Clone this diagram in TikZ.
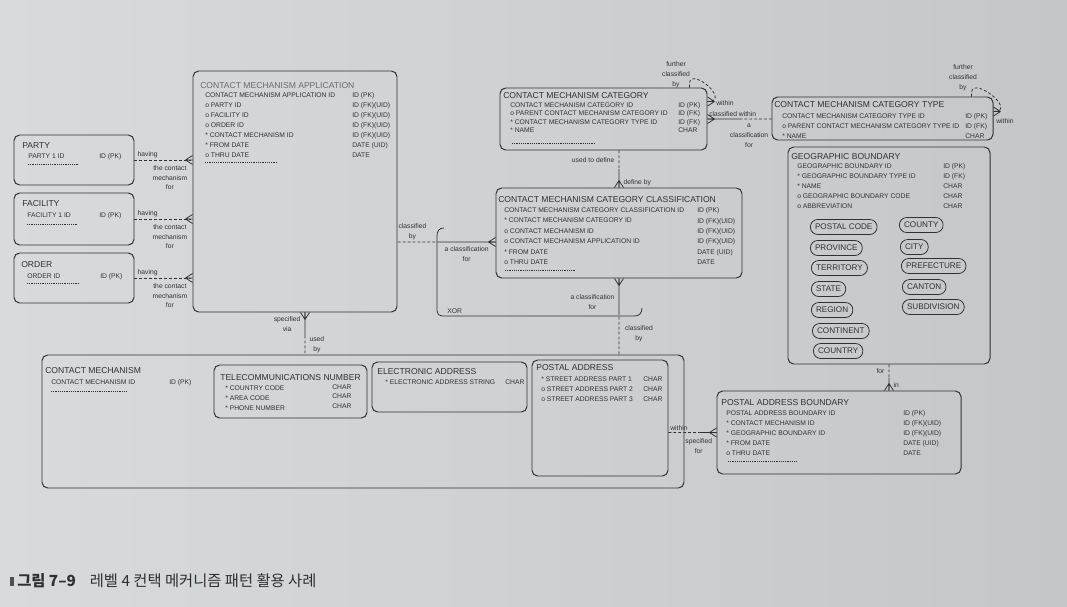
\documentclass[tikz,border=0pt]{standalone}
\usepackage{fontspec}
\setmainfont{Liberation Sans}
\newfontfamily\krfont{Noto Sans CJK KR}
\usetikzlibrary{fit,calc,positioning}

\definecolor{paperL}{RGB}{216,218,219}
\definecolor{paperR}{RGB}{196,199,201}
\definecolor{ink}{RGB}{48,48,50}
\definecolor{inklight}{RGB}{105,106,108}

\newcommand\entfont{\fontsize{6.1}{7.2}\selectfont}
\newcommand\attrfont{\fontsize{4.8}{7.1}\selectfont}
\newcommand\relfont{\fontsize{4.8}{7}\selectfont}
\newcommand\pillfont{\fontsize{5.8}{7}\selectfont}

\tikzset{
  entity/.style={draw=ink, line width=0.7pt, rounded corners=4pt, inner sep=0pt},
  enttitle/.style={anchor=west, inner sep=0pt, font=\entfont, text=ink},
  attrs/.style={anchor=north west, inner sep=0pt, align=left, font=\attrfont, text=ink},
  rel/.style={inner sep=0pt, font=\relfont, text=ink, align=center},
  link/.style={draw=ink, line width=0.55pt},
  optlink/.style={link, dash pattern=on 2pt off 1.5pt},
  moreattrs/.style={draw=ink, line width=0.3pt, densely dotted},
  subtype/.style={draw=ink, line width=0.55pt, rounded corners=5.2pt, minimum height=0.375cm,
    inner xsep=3.3pt, inner ysep=0pt, font=\pillfont, text=ink, anchor=west},
  crow/.pic={\draw[link, solid] (-7,0) -- (0,-4.5) (-7,0) -- (0,4.5) (-7,0) -- (0,0);}
}

\begin{document}
\begin{tikzpicture}[x=0.025cm, y=-0.025cm]
    \useasboundingbox (0,0) rectangle (1067,606);
    \shade[left color=paperL, right color=paperR] (0,0) rectangle (1067,606);

    % Party, facility, order
    \node[entity, fit={(14,135) (134,185)}] (party) {};
    \node[enttitle] (partyT) at (22,146) {PARTY};
    \node[attrs] (partyA) at (28,153.5) {PARTY 1 ID};
    \node[attrs] (partyV) at (99,153.5) {ID (PK)};
    \draw[moreattrs] (28,164) -- (79,164);

    \node[entity, fit={(14,193) (134,245)}] (facility) {};
    \node[enttitle] (facilityT) at (22,204) {FACILITY};
    \node[attrs] (facilityA) at (27,212.5) {FACILITY 1 ID};
    \node[attrs] (facilityV) at (99,212.5) {ID (PK)};
    \draw[moreattrs] (27,224) -- (78,224);

    \node[entity, fit={(14,253) (134,303)}] (order) {};
    \node[enttitle] (orderT) at (21,265) {ORDER};
    \node[attrs] (orderA) at (27,273.5) {ORDER ID};
    \node[attrs] (orderV) at (100,273.5) {ID (PK)};
    \draw[moreattrs] (27,283) -- (79,283);

    % Contact mechanism application
    \node[entity, fit={(193,71) (397,312)}] (cma) {};
    \node[enttitle, text=inklight] (cmaT) at (200,86) {CONTACT MECHANISM APPLICATION};
    \node[attrs] (cmaA) at (205,92.5) {CONTACT MECHANISM APPLICATION ID\\o PARTY ID\\o FACILITY ID\\o ORDER ID\\* CONTACT MECHANISM ID\\* FROM DATE\\o THRU DATE};
    \node[attrs] (cmaV) at (352,92.5) {ID (PK)\\ID (FK)(UID)\\ID (FK)(UID)\\ID (FK)(UID)\\ID (FK)(UID)\\DATE (UID)\\DATE};
    \draw[moreattrs] (205,162) -- (277,162);

    % Category and category type
    \node[entity, fit={(500,88) (707,150)}] (cmc) {};
    \node[enttitle] (cmcT) at (503,96) {CONTACT MECHANISM CATEGORY};
    \node[attrs, font=\fontsize{4.8}{5.9}\selectfont] (cmcA) at (510,102.5) {CONTACT MECHANISM CATEGORY ID\\o PARENT CONTACT MECHANISM CATEGORY ID\\* CONTACT MECHANISM CATEGORY TYPE ID\\* NAME};
    \node[attrs, font=\fontsize{4.8}{5.9}\selectfont] (cmcV) at (678,102.5) {ID (PK)\\ID (FK)\\ID (FK)\\CHAR};
    \draw[moreattrs] (512,143) -- (595,143);

    \node[entity, fit={(772,97) (993,140)}] (cmct) {};
    \node[enttitle] (cmctT) at (774,105) {CONTACT MECHANISM CATEGORY TYPE};
    \node[attrs] (cmctA) at (782,113.5) {CONTACT MECHANISM CATEGORY TYPE ID\\o PARENT CONTACT MECHANISM CATEGORY TYPE ID\\* NAME};
    \node[attrs] (cmctV) at (965,113.5) {ID (PK)\\ID (FK)\\CHAR};

    % Geographic boundary
    \node[entity, fit={(788,147) (990,364)}] (gb) {};
    \node[enttitle] (gbT) at (791,157) {GEOGRAPHIC BOUNDARY};
    \node[attrs] (gbA) at (797,163.5) {GEOGRAPHIC BOUNDARY ID\\* GEOGRAPHIC BOUNDARY TYPE ID\\* NAME\\o GEOGRAPHIC BOUNDARY CODE\\o ABBREVIATION};
    \node[attrs] (gbV) at (943,163.5) {ID (PK)\\ID (FK)\\CHAR\\CHAR\\CHAR};
    \node[subtype] (gbPostal) at (810,227) {POSTAL CODE};
    \node[subtype] (gbProvince) at (810,248) {PROVINCE};
    \node[subtype] (gbTerritory) at (811,268) {TERRITORY};
    \node[subtype] (gbState) at (811,289) {STATE};
    \node[subtype] (gbRegion) at (811,310) {REGION};
    \node[subtype] (gbContinent) at (812,331) {CONTINENT};
    \node[subtype] (gbCountry) at (813,351) {COUNTRY};
    \node[subtype] (gbCounty) at (899,225) {COUNTY};
    \node[subtype] (gbCity) at (900,247) {CITY};
    \node[subtype] (gbPrefecture) at (901,266) {PREFECTURE};
    \node[subtype] (gbCanton) at (902,287) {CANTON};
    \node[subtype] (gbSubdiv) at (902,307) {SUBDIVISION};

    % Category classification
    \node[entity, fit={(496,188) (742,278)}] (cmcc) {};
    \node[enttitle] (cmccT) at (498,200) {CONTACT MECHANISM CATEGORY CLASSIFICATION};
    \node[attrs, font=\fontsize{4.8}{7.4}\selectfont] (cmccA) at (504,207.5) {CONTACT MECHANISM CATEGORY CLASSIFICATION ID\\* CONTACT MECHANISM CATEGORY ID\\o CONTACT MECHANISM ID\\o CONTACT MECHANISM APPLICATION ID\\* FROM DATE\\o THRU DATE};
    \node[attrs, font=\fontsize{4.8}{7.4}\selectfont] (cmccV) at (697,207.5) {ID (PK)\\ID (FK)(UID)\\ID (FK)(UID)\\ID (FK)(UID)\\DATE (UID)\\DATE};
    \draw[moreattrs] (505,270) -- (575,270);

    % Contact mechanism with its subtypes
    \node[entity, fit={(42,355) (684,488)}] (cm) {};
    \node[enttitle] (cmT) at (45,371) {CONTACT MECHANISM};
    \node[attrs] (cmA) at (51,379) {CONTACT MECHANISM ID};
    \node[attrs] (cmV) at (169,379) {ID (PK)};
    \draw[moreattrs] (51,391) -- (127,391);

    \node[entity, fit={(214,365) (367,418)}] (tn) {};
    \node[enttitle] (tnT) at (220,378) {TELECOMMUNICATIONS NUMBER};
    \node[attrs] (tnA) at (225,385.5) {* COUNTRY CODE\\* AREA CODE\\* PHONE NUMBER};
    \node[attrs] (tnV) at (332,384) {CHAR\\CHAR\\CHAR};

    \node[entity, fit={(372,362) (527,412)}] (ea) {};
    \node[enttitle] (eaT) at (377,372) {ELECTRONIC ADDRESS};
    \node[attrs] (eaA) at (385,379.5) {* ELECTRONIC ADDRESS STRING};
    \node[attrs] (eaV) at (505,379.5) {CHAR};

    \node[entity, fit={(532,360) (668,476)}] (pa) {};
    \node[enttitle] (paT) at (536,368) {POSTAL ADDRESS};
    \node[attrs] (paA) at (541,376.5) {* STREET ADDRESS PART 1\\o STREET ADDRESS PART 2\\o STREET ADDRESS PART 3};
    \node[attrs] (paV) at (643,376.5) {CHAR\\CHAR\\CHAR};

    % Postal address boundary
    \node[entity, fit={(717,391) (961,474)}] (pab) {};
    \node[enttitle] (pabT) at (721,403) {POSTAL ADDRESS BOUNDARY};
    \node[attrs] (pabA) at (726,410.5) {POSTAL ADDRESS BOUNDARY ID\\* CONTACT MECHANISM ID\\* GEOGRAPHIC BOUNDARY ID\\* FROM DATE\\o THRU DATE};
    \node[attrs] (pabV) at (903,410.5) {ID (PK)\\ID (FK)(UID)\\ID (FK)(UID)\\DATE (UID)\\DATE};
    \draw[moreattrs] (728,461) -- (797,461);

    % Party, facility, order having applications
    \draw[optlink] (party.east) -- (party.east -| cma.west)
        node[rel, pos=0, anchor=south west, xshift=2pt, yshift=1pt] (partyHave) {having}
        node[rel, pos=0.61, below=3.5pt] (partyFor) {the contact\\mechanism\\for};
    \pic at (party.east -| cma.west) {crow};
    \draw[optlink] (facility.east) -- (facility.east -| cma.west)
        node[rel, pos=0, anchor=south west, xshift=2pt, yshift=1pt] (facilityHave) {having}
        node[rel, pos=0.61, below=3.5pt] (facilityFor) {the contact\\mechanism\\for};
    \pic at (facility.east -| cma.west) {crow};
    \draw[optlink] (order.east) -- (order.east -| cma.west)
        node[rel, pos=0, anchor=south west, xshift=2pt, yshift=1pt] (orderHave) {having}
        node[rel, pos=0.61, below=3.5pt] (orderFor) {the contact\\mechanism\\for};
    \pic at (order.east -| cma.west) {crow};

    % Application specified via contact mechanism
    \coordinate (viaA) at ($(cma.south)+(10,0)$);
    \coordinate (viaB) at (viaA |- cm.north);
    \coordinate (viaM) at ($(viaA)!0.55!(viaB)$);
    \draw[link] (viaA) -- (viaM) node[rel, midway, left=3pt] (viaLbl) {specified\\via};
    \draw[optlink] (viaM) -- (viaB) node[rel, midway, right=3pt] (usedLbl) {used\\by};
    \pic[rotate=90] at (viaA) {crow};

    % Recursive category and category type
    \coordinate (cmcLoopA) at ($(cmc.north east)+(-18,0)$);
    \coordinate (cmcLoopB) at ($(cmc.north east)+(0,14)$);
    \draw[optlink] (cmcLoopA) .. controls +(-4,-26) and +(26,0) .. (cmcLoopB);
    \pic[rotate=180] at (cmcLoopB) {crow};
    \node[rel] (cmcFurther) at (676,75) {further\\classified\\by};
    \node[rel, anchor=west] (cmcWithin) at (716,103) {within};

    \coordinate (cmctLoopA) at ($(cmct.north east)+(-22,0)$);
    \coordinate (cmctLoopB) at ($(cmct.north east)+(0,15)$);
    \draw[optlink] (cmctLoopA) .. controls +(-4,-26) and +(26,0) .. (cmctLoopB);
    \pic[rotate=180] at (cmctLoopB) {crow};
    \node[rel] (cmctFurther) at (963,78) {further\\classified\\by};
    \node[rel, anchor=west] (cmctWithin) at (996,121) {within};

    \coordinate (typeA) at (cmc.east);
    \coordinate (typeB) at (cmc.east -| cmct.west);
    \coordinate (typeM) at ($(typeA)!0.5!(typeB)$);
    \draw[link] (typeA) -- (typeM)
        node[rel, pos=0, anchor=south west, xshift=1pt, yshift=1.5pt] (typeWithin) {classified within};
    \draw[optlink] (typeM) -- (typeB)
        node[rel, pos=0.3, below=3.5pt] (typeFor) {a\\classification\\for};
    \pic[rotate=180] at (typeA) {crow};

    % Category used to define classification
    \coordinate (defA) at (cmcc.north |- cmc.south);
    \coordinate (defB) at (cmcc.north);
    \coordinate (defM) at ($(defA)!0.5!(defB)$);
    \draw[optlink] (defA) -- (defM) node[rel, midway, left=3pt] (defUsed) {used to define};
    \draw[link] (defM) -- (defB) node[rel, pos=0.74, right=3pt] (defBy) {define by};
    \pic[rotate=-90] at (defB) {crow};

    % Classification for application or mechanism (XOR)
    \coordinate (clsA) at ($(cmcc.west)+(0,9)$);
    \coordinate (clsB) at (clsA -| cma.east);
    \coordinate (clsM) at ($(clsA)!0.566!(clsB)$);
    \draw[link] (clsA) -- (clsM) node[rel, pos=0.52, below=3pt] (clsFor) {a classification\\for};
    \draw[optlink] (clsM) -- (clsB) node[rel, pos=0.65, above=1.5pt] (clsBy) {classified\\by};
    \pic at (clsA) {crow};

    \coordinate (fcA) at (cmcc.south);
    \coordinate (fcB) at (cmcc.south |- cm.north);
    \coordinate (fcM) at ($(fcA)!0.44!(fcB)$);
    \draw[link] (fcA) -- (fcM) node[rel, pos=0.71, left=3pt] (fcFor) {a classification\\for};
    \draw[optlink] (fcM) -- (fcB) node[rel, pos=0.52, right=4pt] (fcBy) {classified\\by};
    \pic[rotate=90] at (fcA) {crow};

    \draw[link] (444,228) .. controls (439,228) and (437,231) .. (437,236) -- (437,311)
        .. controls (437,314) and (439,316) .. (442,316) -- (635,316)
        .. controls (639,316) and (642,313) .. (642,308);
    \node[rel, anchor=west] (xorLbl) at (447,311) {XOR};

    % Postal address within boundary
    \coordinate (paA) at (pa.east |- pab.west);
    \coordinate (paB) at (pab.west);
    \coordinate (paM) at ($(paA)!0.65!(paB)$);
    \draw[optlink] (paA) -- (paM)
        node[rel, pos=0, anchor=south west, xshift=1pt, yshift=1pt] (paWithin) {within}
        node[rel, pos=0.97, below=4pt] (paFor) {specified\\for};
    \draw[link] (paM) -- (paB);
    \pic at (paB) {crow};

    \coordinate (gbA) at (gb.south);
    \coordinate (gbB) at (gb.south |- pab.north);
    \coordinate (gbM) at ($(gbA)!0.5!(gbB)$);
    \draw[optlink] (gbA) -- (gbM) node[rel, midway, left=3pt] (gbFor) {for};
    \draw[link] (gbM) -- (gbB) node[rel, pos=0.6, right=3pt] (gbIn) {in};
    \pic[rotate=-90] at (gbB) {crow};

    % Caption
    \fill[ink!85] (10,577) rectangle (14,586);
    \node[anchor=west, inner sep=0pt, text=ink, font=\krfont\fontsize{10.9}{12}\selectfont] (caption) at (17,581)
        {\textbf{그림 7–9}\hspace{0.9em}레벨 4 컨택 메커니즘 패턴 활용 사례};
\end{tikzpicture}
\end{document}
